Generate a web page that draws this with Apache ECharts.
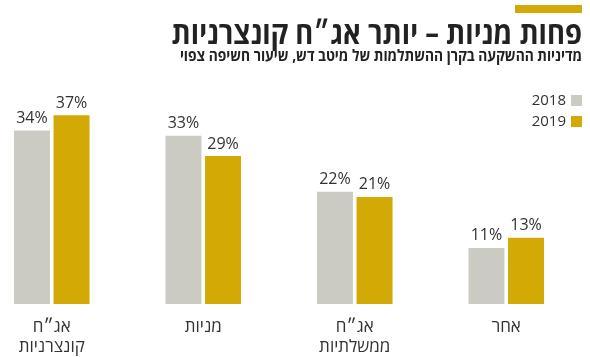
<!DOCTYPE html>
<html><head><meta charset="utf-8">
<script src="https://cdn.jsdelivr.net/npm/echarts@6/dist/echarts.min.js"></script>
<style>html,body{margin:0;padding:0;background:#fff}#c{width:590px;height:357px}</style>
</head><body><div id="c"></div>
<script>
var categories = ['אג״ח\nקונצרניות', 'מניות', 'אג״ח\nממשלתיות', 'אחר'];
var values2018 = [34, 33, 22, 11];
var values2019 = [37, 29, 21, 13];
var seriesNames = ['2018', '2019'];
var titleText = 'פחות מניות – יותר אג״ח קונצרניות';
var subtitleText = 'מדיניות ההשקעה בקרן ההשתלמות של מיטב דש, שיעור חשיפה צפוי';

var FONT = '"Open Sans", "Liberation Sans", "DejaVu Sans", sans-serif';
var chart = echarts.init(document.getElementById('c'), null, {renderer: 'canvas'});
var labelCfg = {show: true, position: 'top', distance: 4, color: '#333', fontSize: 16, fontFamily: FONT, formatter: '{c}%'};
chart.setOption({
  animation: false,
  color: ['#cbcbc3', '#d3a905'],
  graphic: [
    {type: 'rect', shape: {x: 515, y: 5, width: 67, height: 8}, style: {fill: '#d3a905'}},
    {type: 'text', x: 582, y: 35, scaleX: 0.885, style: {text: titleText, font: 'bold 31px ' + FONT, fill: '#222', textAlign: 'right', verticalAlign: 'middle'}},
    {type: 'text', x: 582, y: 56, scaleX: 0.86, style: {text: subtitleText, font: 'bold 16px ' + FONT, fill: '#222', textAlign: 'right', verticalAlign: 'middle'}}
  ],
  legend: {
    orient: 'vertical', right: 8, top: 93, align: 'right', padding: 0,
    itemWidth: 11, itemHeight: 11, itemGap: 6, icon: 'rect',
    textStyle: {color: '#333', fontSize: 15, fontFamily: FONT},
    data: seriesNames
  },
  grid: {left: -24, right: 8, top: 100, bottom: 53, containLabel: false, outerBoundsMode: 'none'},
  xAxis: {
    type: 'category', data: categories,
    axisLine: {show: false}, axisTick: {show: false},
    axisLabel: {color: '#333', fontSize: 17, fontFamily: FONT, margin: 13, lineHeight: 20, interval: 0}
  },
  yAxis: {type: 'value', min: 0, max: 40, show: false, splitLine: {show: false}},
  series: [
    {name: seriesNames[0], type: 'bar', data: values2018, barWidth: 36, barGap: '10%', label: labelCfg},
    {name: seriesNames[1], type: 'bar', data: values2019, barWidth: 36, barGap: '10%', label: labelCfg}
  ]
});
</script></body></html>
